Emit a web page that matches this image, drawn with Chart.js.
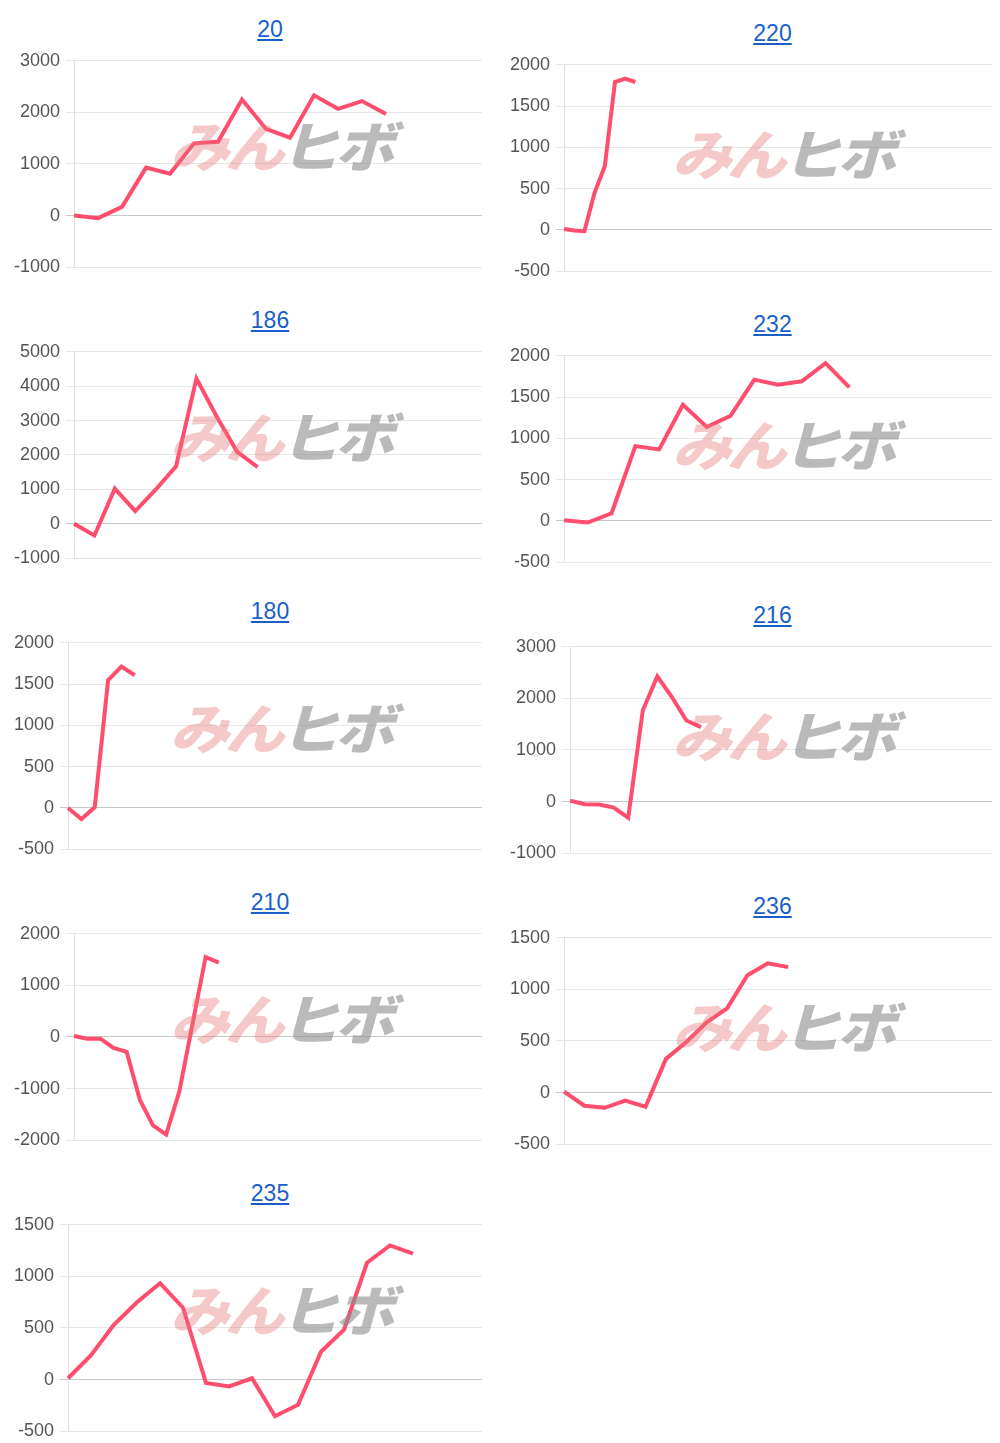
<!DOCTYPE html>
<html>
<head>
<meta charset="utf-8">
<script src="https://cdn.jsdelivr.net/npm/chart.js@4/dist/chart.umd.min.js"></script>
<style>
  body { margin: 0; background: #fff; font-family: "Liberation Sans", Arial, sans-serif; }
  #grid { display: grid; grid-template-columns: 500px 500px; grid-auto-rows: 291px; }
  .cell { position: relative; }
  .cell a { display: block; text-align: center; color: #1a5fc8; font-size: 23px; text-decoration: underline; height: 44px; line-height: 58px; padding-left: 40px; }
  .cell canvas { display: block; }
  .wm { position: absolute; font: italic 900 54px "Noto Sans CJK JP", sans-serif; pointer-events: none; letter-spacing: -4px; transform: scaleX(1.1); transform-origin: left top; }
  .wm .a { color: rgba(230,120,120,0.4); }
  .wm .b { color: rgba(140,140,140,0.6); }
</style>
</head>
<body>
<div id="grid"></div>
<script>
// machine numbers and their cumulative data
const titles = ['20', '220', '186', '232', '180', '216', '210', '236', '235'];
const labelCounts = [18, 43, 21, 19, 32, 30, 32, 22, 19];

const s20  = [0, -50, 170, 930, 810, 1400, 1430, 2250, 1680, 1510, 2330, 2070, 2220, 1970];
const s220 = [12, -8, -16, 452, 772, 1792, 1832, 1792];
const s186 = [0, -340, 1020, 370, 990, 1670, 4220, 3110, 2090, 1650];
const s232 = [8, -20, 93, 906, 866, 1406, 1138, 1272, 1711, 1650, 1691, 1911, 1618];
const s180 = [0, -135, 8, 1549, 1713, 1607];
const s216 = [19, -52, -58, -117, -312, 1766, 2429, 2026, 1571, 1442];
const s210 = [19, -32, -32, -211, -288, -1218, -1712, -1891, -1058, 250, 1551, 1442];
const s236 = [10, -127, -147, -78, -137, 327, 490, 680, 817, 1137, 1252, 1216];
const s235 = [13, 237, 533, 750, 934, 697, -33, -66, 13, -355, -243, 270, 484, 1132, 1300, 1220];
const series = [s20, s220, s186, s232, s180, s216, s210, s236, s235];

// y axis ranges [min, max, step]
const yRanges = [
  [-1000, 3000, 1000], [-500, 2000, 500], [-1000, 5000, 1000], [-500, 2000, 500],
  [-500, 2000, 500], [-1000, 3000, 1000], [-2000, 2000, 1000], [-500, 1500, 500], [-500, 1500, 500]
];

const grid = document.getElementById('grid');
titles.forEach((t, i) => {
  const cell = document.createElement('div');
  cell.className = 'cell';
  const right = i % 2 === 1;
  cell.innerHTML = `<a href="#" style="${right ? 'margin-top:4px;padding-left:45px' : ''}">${t}</a>
    <canvas width="492" height="240"></canvas>
    <div class="wm" style="left:${right ? 172 : 170}px;top:${right ? 112 : 104}px"><span class="a">みん</span><span class="b">ヒボ</span></div>`;
  grid.appendChild(cell);

  const [min, max, step] = yRanges[i];
  new Chart(cell.querySelector('canvas'), {
    type: 'line',
    data: {
      labels: Array(labelCounts[i]).fill(''),
      datasets: [{
        data: series[i],
        borderColor: '#ff4d6d',
        borderWidth: 4,
        pointRadius: 0,
        tension: 0
      }]
    },
    options: {
      responsive: false,
      animation: false,
      layout: { padding: { left: right ? 4 : 8, right: right ? 0 : 10, top: 8 } },
      plugins: { legend: { display: false }, tooltip: { enabled: false } },
      scales: {
        x: {
          ticks: { display: false },
          grid: { display: true, drawTicks: false, color: ctx => ctx.index === 0 ? '#e0e0e0' : 'transparent' },
          border: { display: false }
        },
        y: {
          min, max,
          ticks: { stepSize: step, color: '#555', font: { size: 18, family: 'Liberation Sans' }, padding: 6, callback: v => String(v) },
          grid: { color: ctx => ctx.tick.value === 0 ? '#c8c8c8' : '#e6e6e6', drawTicks: true, tickLength: 8 },
          border: { display: false }
        }
      }
    }
  });
});
</script>
</body>
</html>
